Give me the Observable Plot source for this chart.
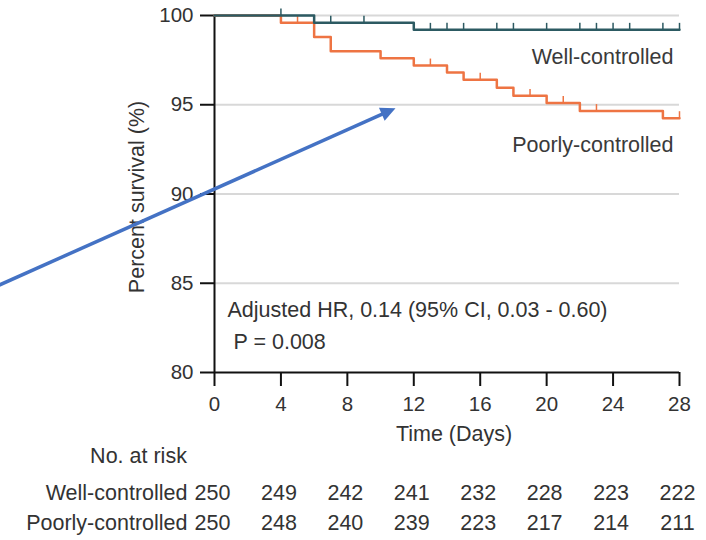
<!DOCTYPE html>
<html><head><meta charset="utf-8">
<script src="https://cdn.jsdelivr.net/npm/d3@7"></script>
<script src="https://cdn.jsdelivr.net/npm/@observablehq/plot@0.6"></script>
<style>
html,body{margin:0;padding:0;background:#fff;}
</style>
</head><body><div id="chart"></div>
<script>
// Kaplan–Meier step data (days, percent survival)
const wellTimes = [0, 6, 12, 28];
const wellSurvival = [100, 99.6, 99.2, 99.2];
const poorTimes = [0, 4, 6, 7, 10, 12, 14, 15, 17, 18, 20, 22, 27, 28];
const poorSurvival = [100, 99.6, 98.8, 98.0, 97.6, 97.2, 96.8, 96.4, 95.95, 95.5, 95.1, 94.65, 94.25, 94.25];
// censoring marks (days)
const wellCensored = [4, 7, 9, 13, 14, 15, 17, 18, 20, 22, 23, 24, 25, 27, 28];
const poorCensored = [5, 13, 16, 19, 21, 23, 28];
// number at risk table
const riskDays = [0, 4, 8, 12, 16, 20, 24, 28];
const wellAtRisk = [250, 249, 242, 241, 232, 228, 223, 222];
const poorAtRisk = [250, 248, 240, 239, 223, 217, 214, 211];
// axes
const xTicks = [0, 4, 8, 12, 16, 20, 24, 28];
const yTicks = [80, 85, 90, 95, 100];
const gridValues = [85, 90, 95, 100];
// annotation arrow (data coordinates)
const arrowFrom = [-13.2, 84.8];
const arrowShaftEnd = [10.57, 94.67];
const arrowTip = [10.9, 94.81];

const TEAL = "#2c5a62", ORANGE = "#ee7443", TXT = "#333333", BLUE = "#4472c4";
const FONT = "'Liberation Sans', Arial, Helvetica, sans-serif";

const stepAt = (times, surv, t) => { let v = surv[0]; times.forEach((tt, i) => { if (tt <= t) v = surv[i]; }); return v; };
const wellData = wellTimes.map((t, i) => ({t, s: wellSurvival[i]}));
const poorData = poorTimes.map((t, i) => ({t, s: poorSurvival[i]}));
const wellCens = wellCensored.map(t => ({t, s: stepAt(wellTimes, wellSurvival, t)}));
const poorCens = poorCensored.map(t => ({t, s: stepAt(poorTimes, poorSurvival, t)}));

// filled arrowhead symbol (tip at origin, pointing up)
const arrowHead = {draw(ctx) { ctx.moveTo(0, 0); ctx.lineTo(-7, 15); ctx.lineTo(7, 15); ctx.closePath(); }};

const chart = Plot.plot({
  width: 706, height: 540,
  marginTop: 15, marginLeft: 214, marginRight: 27, marginBottom: 168,
  style: {fontFamily: FONT, fontSize: "21.5px", background: "#fff", color: TXT, overflow: "visible"},
  x: {domain: [0, 28]},
  y: {domain: [80, 100]},
  marks: [
    Plot.ruleY(gridValues, {stroke: "#d8d8d8", strokeWidth: 2}),
    Plot.axisY({ticks: yTicks, tickSize: 14, tickPadding: 7, stroke: "#111", strokeWidth: 2, fill: TXT, fontSize: 20.5, label: null}),
    Plot.axisX({ticks: xTicks, tickSize: 14, tickPadding: 10, stroke: "#111", strokeWidth: 2, fill: TXT, fontSize: 20.5, label: null}),
    Plot.ruleX([0], {stroke: "#111", strokeWidth: 2}),
    Plot.ruleY([80], {stroke: "#111", strokeWidth: 2}),
    Plot.line(poorData, {x: "t", y: "s", curve: "step-after", stroke: ORANGE, strokeWidth: 2.5}),
    Plot.ruleX(poorCens, {x: "t", y1: "s", y2: d => d.s + 0.36, stroke: ORANGE, strokeWidth: 1.5}),
    Plot.line(wellData, {x: "t", y: "s", curve: "step-after", stroke: TEAL, strokeWidth: 2.5}),
    Plot.ruleX(wellCens, {x: "t", y1: "s", y2: d => d.s + 0.36, stroke: TEAL, strokeWidth: 1.5}),
    Plot.text([{x: 28, y: 97.67, label: "Well-controlled"}, {x: 28, y: 92.75, label: "Poorly-controlled"}],
      {x: "x", y: "y", text: "label", textAnchor: "end", dx: -6, fill: "#3a3a3a"}),
    Plot.text(["Adjusted HR, 0.14 (95% CI, 0.03 - 0.60)"], {frameAnchor: "bottom-left", dx: 13, dy: -56, textAnchor: "start", fill: TXT}),
    Plot.text(["P = 0.008"], {frameAnchor: "bottom-left", dx: 19, dy: -24, textAnchor: "start", fill: TXT}),
    Plot.text(["Percent survival (%)"], {frameAnchor: "left", dx: -77, dy: 3, rotate: -90, textAnchor: "middle", fill: TXT}),
    Plot.text(["Time (Days)"], {frameAnchor: "bottom", dx: 7, dy: 68, fill: TXT}),
    Plot.text(["No. at risk"], {frameAnchor: "bottom-left", dx: -76, dy: 90, textAnchor: "middle", fill: TXT}),
    Plot.text(["Well-controlled"], {frameAnchor: "bottom-left", dx: -27, dy: 127, textAnchor: "end", fill: TXT}),
    Plot.text(["Poorly-controlled"], {frameAnchor: "bottom-left", dx: -27, dy: 157, textAnchor: "end", fill: TXT}),
    Plot.text(riskDays, {x: d => d, text: (d, i) => wellAtRisk[i], frameAnchor: "bottom", dx: -2, dy: 127, fill: TXT}),
    Plot.text(riskDays, {x: d => d, text: (d, i) => poorAtRisk[i], frameAnchor: "bottom", dx: -2, dy: 157, fill: TXT}),
    Plot.link([{x1: arrowFrom[0], y1: arrowFrom[1], x2: arrowShaftEnd[0], y2: arrowShaftEnd[1]}],
      {x1: "x1", y1: "y1", x2: "x2", y2: "y2", stroke: BLUE, strokeWidth: 3.5}),
    Plot.dot([{x: arrowTip[0], y: arrowTip[1]}], {x: "x", y: "y", symbol: arrowHead, fill: BLUE, stroke: "none", rotate: 66})
  ]
});
document.getElementById("chart").appendChild(chart);
</script>
</body></html>
